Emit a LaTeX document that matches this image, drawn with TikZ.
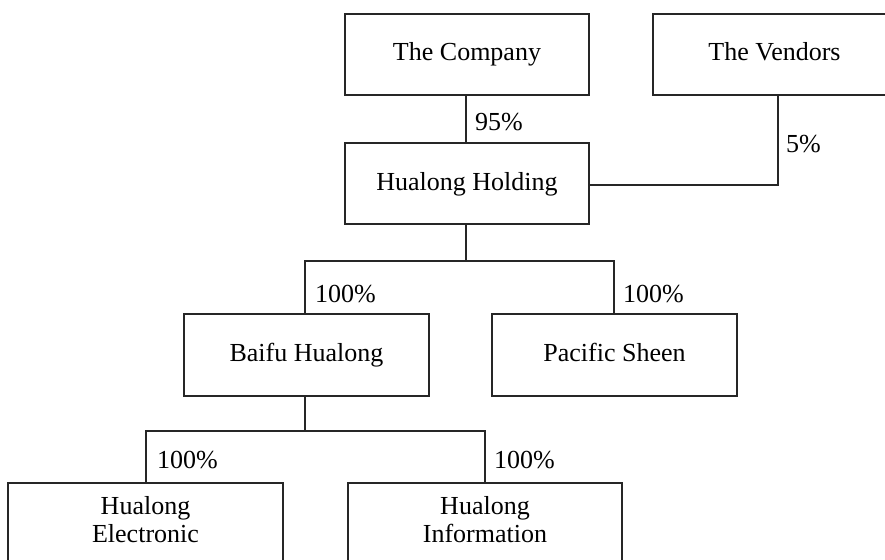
\documentclass[tikz,border=0pt]{standalone}
\usepackage{fontspec}
\setmainfont{Liberation Serif}
\begin{document}
\begin{tikzpicture}[x=1pt,y=-1pt,
  font=\fontsize{26}{28}\selectfont,
  box/.style={draw=black!85, line width=2pt, minimum height=81pt, inner sep=0pt,
    text height=18pt, text depth=5pt},
  twobox/.style={draw=black!85, line width=2pt, minimum height=82pt, inner sep=0pt,
    text height=18pt, text depth=37pt},
  conn/.style={draw=black!85, line width=2pt},
  pct/.style={anchor=base west, inner sep=0pt}]
\useasboundingbox (0,0) rectangle (885,559);
\clip (0,0) rectangle (885,559);
\fill[white] (0,0) rectangle (885,559);

\node[box, minimum width=244pt] (company) at (467,54.5) {The Company};
\node[box, minimum width=243pt] (vendors) at (774.5,54.5) {The Vendors};
\node[box, minimum width=244pt] (holding) at (467,183.5) {Hualong Holding};
\node[box, minimum width=245pt, minimum height=82pt] (baifu) at (306.5,355) {Baifu Hualong};
\node[box, minimum width=245pt, minimum height=82pt] (pacific) at (614.5,355) {Pacific Sheen};
\node[twobox, minimum width=275pt] (elec) at (145.5,524)
  {\begin{tabular}[t]{@{}c@{}}Hualong\\Electronic\end{tabular}};
\node[twobox, minimum width=274pt] (info) at (485,524)
  {\begin{tabular}[t]{@{}c@{}}Hualong\\Information\end{tabular}};

\coordinate (vdrop) at ([xshift=3.5pt]vendors.south);
\coordinate (hv) at ([yshift=-1.5pt]holding.east);
\coordinate (t1) at (466,261);
\coordinate (t2) at (305,431);

\draw[conn] ([xshift=-1pt]company.south) -- ([xshift=-1pt]holding.north);
\draw[conn] (hv) -| (vdrop);
\draw[conn] ([xshift=-1pt]holding.south) -- (t1);
\draw[conn] ([xshift=-1.5pt]baifu.north) |- (t1) -| ([xshift=-0.5pt]pacific.north);
\draw[conn] ([xshift=-1.5pt]baifu.south) -- (t2);
\draw[conn] ([xshift=0.5pt]elec.north) |- (t2) -| (info.north);

\node[pct] (p95) at (475,130) {95\%};
\node[pct] (p5) at (786,152) {5\%};
\node[pct] (p100a) at (315,302) {100\%};
\node[pct] (p100b) at (623,302) {100\%};
\node[pct] (p100c) at (157,468) {100\%};
\node[pct] (p100d) at (494,468) {100\%};
\end{tikzpicture}
\end{document}
